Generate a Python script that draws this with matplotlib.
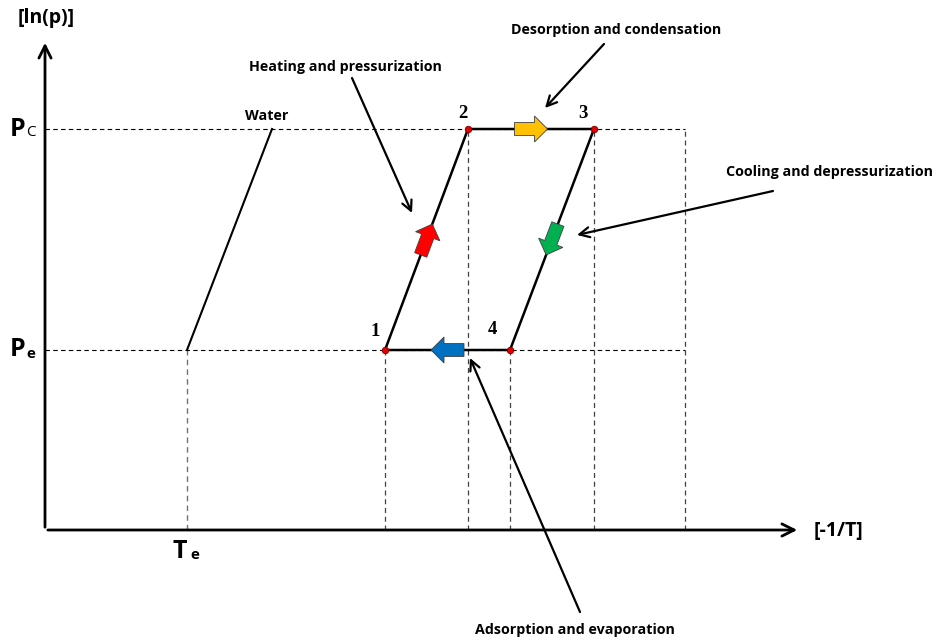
import matplotlib
matplotlib.use('Agg')
import matplotlib.pyplot as plt
import numpy as np
from matplotlib.patches import FancyArrow

# state points of the cycle, x = -1/T, y = ln(p) (arbitrary units, origin at axes corner)
cycle_x = [340, 423, 549, 465]
cycle_y = [180, 401, 401, 180]
cycle_names = ['1', '2', '3', '4']
water_x = [142, 227]
water_y = [180, 401]
p_levels = [401, 180]          # Pc, Pe
p_names = ['C', 'e']
t_evap = 142
x_end = 640
step_colors = ['#ff0000', '#ffc000', '#00b050', '#0070c0']   # 1-2, 2-3, 3-4, 4-1

# label, label centre, arrow start, arrow tip
annotations = [
    ('Heating and pressurization', (300, 463), (307, 452), (367, 317)),
    ('Desorption and condensation', (571, 500), (559, 486), (500, 422)),
    ('Cooling and depressurization', (785, 358), (728, 339), (532, 295)),
    ('Adsorption and evaporation', (530, -100), (535, -82), (425, 172)),
]

FONT = ['Open Sans', 'DejaVu Sans']

fig = plt.figure(figsize=(9.41, 6.42), dpi=100)
ax = fig.add_axes([0, 0, 1, 1])
ax.set_xlim(-45, 896)
ax.set_ylim(-112, 530)
ax.axis('off')

# axes arrows
ax.annotate('', xy=(0, 490), xytext=(0, 0),
            arrowprops=dict(arrowstyle='->', lw=2, color='black', mutation_scale=22))
ax.annotate('', xy=(755, 0), xytext=(0, 0),
            arrowprops=dict(arrowstyle='->', lw=2, color='black', mutation_scale=22))
ax.text(1, 512, '[ln(p)]', ha='center', va='center', fontsize=14,
        fontweight='bold', family=FONT)
ax.text(769, -1, '[-1/T]', ha='left', va='center', fontsize=14,
        fontweight='bold', family=FONT)

# dashed guide lines
for p in p_levels:
    ax.plot([0, x_end], [p, p], ls=(0, (4, 3)), color='black', lw=0.8)
ax.plot([t_evap, t_evap], [0, p_levels[1]], ls=(0, (4, 3)), color='0.45', lw=1)
for x, y in zip(cycle_x, cycle_y):
    ax.plot([x, x], [0, y], ls=(0, (4, 3)), color='0.25', lw=0.9)
ax.plot([x_end, x_end], [0, p_levels[0]], ls=(0, (4, 3)), color='0.25', lw=0.9)

# P and T labels
for p, sub in zip(p_levels, p_names):
    ax.text(-35, p, 'P', ha='left', va='center', fontsize=18, fontweight='bold', family=FONT)
    ax.text(-19, p - 4, sub, ha='left', va='center', fontsize=11, family=FONT,
            fontweight='bold' if sub == 'e' else 'normal')
ax.text(t_evap - 7, -21, 'T', ha='center', va='center', fontsize=18, fontweight='bold', family=FONT)
ax.text(t_evap + 8, -25, 'e', ha='center', va='center', fontsize=11, fontweight='bold', family=FONT)

# water line
ax.plot(water_x, water_y, color='black', lw=1.5)
ax.text(222, 414, 'Water', ha='center', va='center', fontsize=10.3,
        fontweight='bold', family=FONT)

# cycle
cx = cycle_x + [cycle_x[0]]
cy = cycle_y + [cycle_y[0]]
ax.plot(cx, cy, color='black', lw=1.8, zorder=3)
ax.scatter(cycle_x, cycle_y, s=22, color='#e00000', edgecolor='#800000', lw=0.6, zorder=5)
name_off = [(-10, 18), (-5, 16), (-11, 16), (-18, 20)]
for x, y, n, (dx, dy) in zip(cycle_x, cycle_y, cycle_names, name_off):
    ax.text(x + dx, y + dy, n, ha='center', va='center', fontsize=13.5,
            fontweight='bold', family='Liberation Serif')

# block arrows on each step
for i in range(4):
    x0, y0 = cx[i], cy[i]
    x1, y1 = cx[i + 1], cy[i + 1]
    d = np.array([x1 - x0, y1 - y0], dtype=float)
    d /= np.hypot(*d)
    mid = np.array([(x0 + x1) / 2, (y0 + y1) / 2])
    L = 33
    start = mid - d * L / 2
    arr = FancyArrow(start[0], start[1], d[0] * L, d[1] * L, width=13,
                     head_width=26, head_length=13, length_includes_head=True,
                     facecolor=step_colors[i], edgecolor='#404040', lw=0.6, zorder=6)
    ax.add_patch(arr)

# process annotations
for txt, tpos, start, tip in annotations:
    ax.text(tpos[0], tpos[1], txt, ha='center', va='center', fontsize=10.3,
            fontweight='bold', family=FONT)
    ax.annotate('', xy=tip, xytext=start,
                arrowprops=dict(arrowstyle='->', lw=1.6, color='black', mutation_scale=18,
                                shrinkA=0, shrinkB=0))

fig.savefig('out.png', dpi=100)
